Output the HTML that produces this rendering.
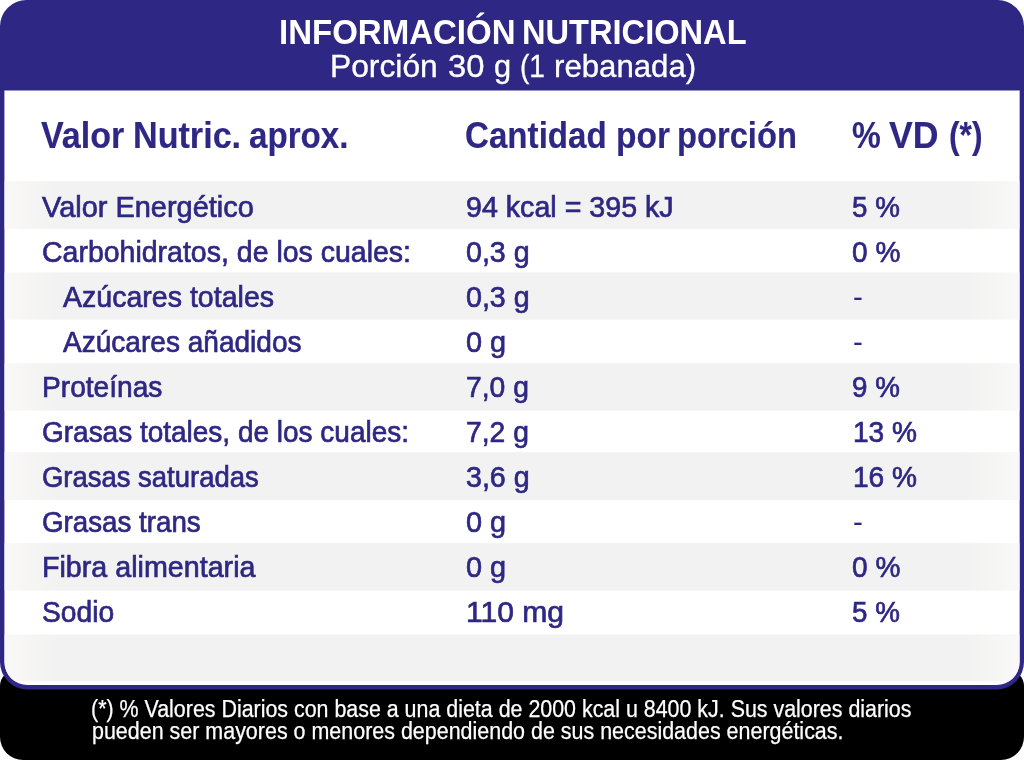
<!DOCTYPE html>
<html lang="es">
<head>
<meta charset="utf-8">
<title>Información Nutricional</title>
<style>
html,body{margin:0;padding:0;background:#fff;}
body{width:1024px;height:760px;position:relative;overflow:hidden;font-family:"Liberation Sans",sans-serif;}
.bg{position:absolute;left:0;top:0;display:block;}
.foot{position:absolute;left:0;top:664px;width:1024px;height:96px;color:#fff;}
.card{position:absolute;left:0;top:0;width:1024px;height:690px;}
span{position:absolute;white-space:nowrap;line-height:1;transform-origin:0 0;}
.head{color:#fff;margin:0;}
.head h1,.head p{margin:0;}
.row{position:absolute;left:0;width:1024px;height:0;color:#2e2783;font-size:30px;font-weight:400;-webkit-text-stroke-width:0.7px;}
.t1{font-size:34.5px;font-weight:700;-webkit-text-stroke-width:0;}
.t2{font-size:31.5px;-webkit-text-stroke-width:0.35px;}
.d{-webkit-text-stroke-width:0;}
.row.h{font-size:37px;font-weight:700;-webkit-text-stroke-width:0.15px;}
.foot .row{font-size:23px;-webkit-text-stroke-width:0.25px;}
</style>
</head>
<body>

<svg class="bg" width="1024" height="760" viewBox="0 0 1024 760" aria-hidden="true">
<defs><linearGradient id="g" gradientUnits="userSpaceOnUse" x1="4.4" y1="0" x2="1019.65" y2="0"><stop offset="0" stop-color="#faf8f8"/><stop offset="0.055" stop-color="#f1f2f1"/><stop offset="0.945" stop-color="#f1f2f1"/><stop offset="1" stop-color="#faf8f8"/></linearGradient><clipPath id="c"><path d="M4.4,90.4H1019.65A0,0 0 0 1 1019.65,90.4V661.9A23,23 0 0 1 996.65,684.9H27.4A23,23 0 0 1 4.4,661.9V90.4A0,0 0 0 1 4.4,90.4Z"/></clipPath></defs>
<path fill="#000" d="M16,670H1008A16,16 0 0 1 1024,686V737A23,23 0 0 1 1001,760H23A23,23 0 0 1 0,737V686A16,16 0 0 1 16,670Z"/>
<path fill="#2e2783" d="M26.5,0H997.5A26.5,26.5 0 0 1 1024,26.5V662.0A27.5,27.5 0 0 1 996.5,689.5H27.5A27.5,27.5 0 0 1 0,662.0V26.5A26.5,26.5 0 0 1 26.5,0Z"/>
<path fill="#fff" d="M4.4,90.4H1019.65A0,0 0 0 1 1019.65,90.4V661.9A23,23 0 0 1 996.65,684.9H27.4A23,23 0 0 1 4.4,661.9V90.4A0,0 0 0 1 4.4,90.4Z"/>
<g clip-path="url(#c)" fill="url(#g)"><rect x="4.4" y="181.2" width="1015.25" height="47.7"/><rect x="4.4" y="272.4" width="1015.25" height="47.3"/><rect x="4.4" y="363.2" width="1015.25" height="47.4"/><rect x="4.4" y="452.2" width="1015.25" height="47.8"/><rect x="4.4" y="543.1" width="1015.25" height="47.5"/><rect x="4.4" y="634.5" width="1015.25" height="46.9"/></g>
</svg>
<div class="foot">
<div class="row" style="top:34.00px;color:#fff"><span style="left:91.19px;transform:scaleX(0.9305)">(*) % Valores Diarios con base a una dieta de 2000 kcal u 8400 kJ. Sus valores diarios</span></div>
<div class="row" style="top:56.00px;color:#fff"><span style="left:91.68px;transform:scaleX(0.9329)">pueden ser mayores o menores dependiendo de sus necesidades energéticas.</span></div>
</div>
<div class="card">
<div class="head">
<h1 class="row t1" style="top:15.00px;color:#fff"><span style="left:279.29px;transform:scaleX(0.9568)">INFORMACIÓN </span><span style="left:522.01px;transform:scaleX(0.9449)">NUTRICIONAL </span></h1>
<p class="row t2" style="top:51.00px;color:#fff"><span style="left:329.86px;transform:scaleX(1.0088)">Porción </span><span style="left:447.64px;transform:scaleX(1.0408)">30 </span><span style="left:493.59px;transform:scaleX(0.9772)">g </span><span style="left:519.87px;transform:scaleX(0.8901)">(1 </span><span style="left:554.29px;transform:scaleX(0.9902)">rebanada) </span></p>
</div>
<div class="row h" style="top:117.00px"><b><span style="left:41.07px;transform:scaleX(0.9208)">Valor </span><span style="left:133.12px;transform:scaleX(0.9226)">Nutric. </span><span style="left:248.67px;transform:scaleX(0.8961)">aprox. </span></b><b><span style="left:465.07px;transform:scaleX(0.8959)">Cantidad </span><span style="left:616.25px;transform:scaleX(0.9067)">por </span><span style="left:677.05px;transform:scaleX(0.8838)">porción </span></b><b><span style="left:852.37px;transform:scaleX(0.8740)">% </span><span style="left:889.07px;transform:scaleX(0.9640)">VD </span><span style="left:949.21px;transform:scaleX(0.8571)">(*) </span></b></div>
<div class="row" style="top:192.00px"><span style="left:41.54px;transform:scaleX(0.9646)">Valor Energético</span><span style="left:466.38px;transform:scaleX(0.9543)">94 kcal = 395 kJ</span><span style="left:852.10px;transform:scaleX(0.9247)">5 %</span></div>
<div class="row" style="top:237.00px"><span style="left:41.88px;transform:scaleX(0.9497)">Carbohidratos, de los cuales:</span><span style="left:465.63px;transform:scaleX(0.9538)">0,3 g</span><span style="left:851.59px;transform:scaleX(0.9346)">0 %</span></div>
<div class="row" style="top:282.00px"><span style="left:63.33px;transform:scaleX(0.9516)">Azúcares totales</span><span style="left:465.63px;transform:scaleX(0.9538)">0,3 g</span><span class="d" style="left:852.61px;transform:scaleX(0.9875)">-</span></div>
<div class="row" style="top:327.00px"><span style="left:63.33px;transform:scaleX(0.9348)">Azúcares añadidos</span><span style="left:465.62px;transform:scaleX(0.9630)">0 g</span><span class="d" style="left:852.61px;transform:scaleX(0.9875)">-</span></div>
<div class="row" style="top:372.00px"><span style="left:42.20px;transform:scaleX(0.9377)">Proteínas</span><span style="left:466.39px;transform:scaleX(0.9422)">7,0 g</span><span style="left:852.10px;transform:scaleX(0.9247)">9 %</span></div>
<div class="row" style="top:417.00px"><span style="left:41.89px;transform:scaleX(0.9325)">Grasas totales, de los cuales:</span><span style="left:466.39px;transform:scaleX(0.9422)">7,2 g</span><span style="left:852.66px;transform:scaleX(0.9352)">13 %</span></div>
<div class="row" style="top:462.00px"><span style="left:41.91px;transform:scaleX(0.9152)">Grasas saturadas</span><span style="left:465.63px;transform:scaleX(0.9538)">3,6 g</span><span style="left:852.66px;transform:scaleX(0.9352)">16 %</span></div>
<div class="row" style="top:507.00px"><span style="left:41.90px;transform:scaleX(0.9242)">Grasas trans</span><span style="left:465.62px;transform:scaleX(0.9630)">0 g</span><span class="d" style="left:852.61px;transform:scaleX(0.9875)">-</span></div>
<div class="row" style="top:552.00px"><span style="left:42.17px;transform:scaleX(0.9553)">Fibra alimentaria</span><span style="left:465.62px;transform:scaleX(0.9630)">0 g</span><span style="left:851.59px;transform:scaleX(0.9346)">0 %</span></div>
<div class="row" style="top:597.00px"><span style="left:41.89px;transform:scaleX(0.9407)">Sodio</span><span style="left:465.85px;transform:scaleX(1.0016)">110 mg</span><span style="left:852.10px;transform:scaleX(0.9247)">5 %</span></div>
</div>
</body>
</html>
